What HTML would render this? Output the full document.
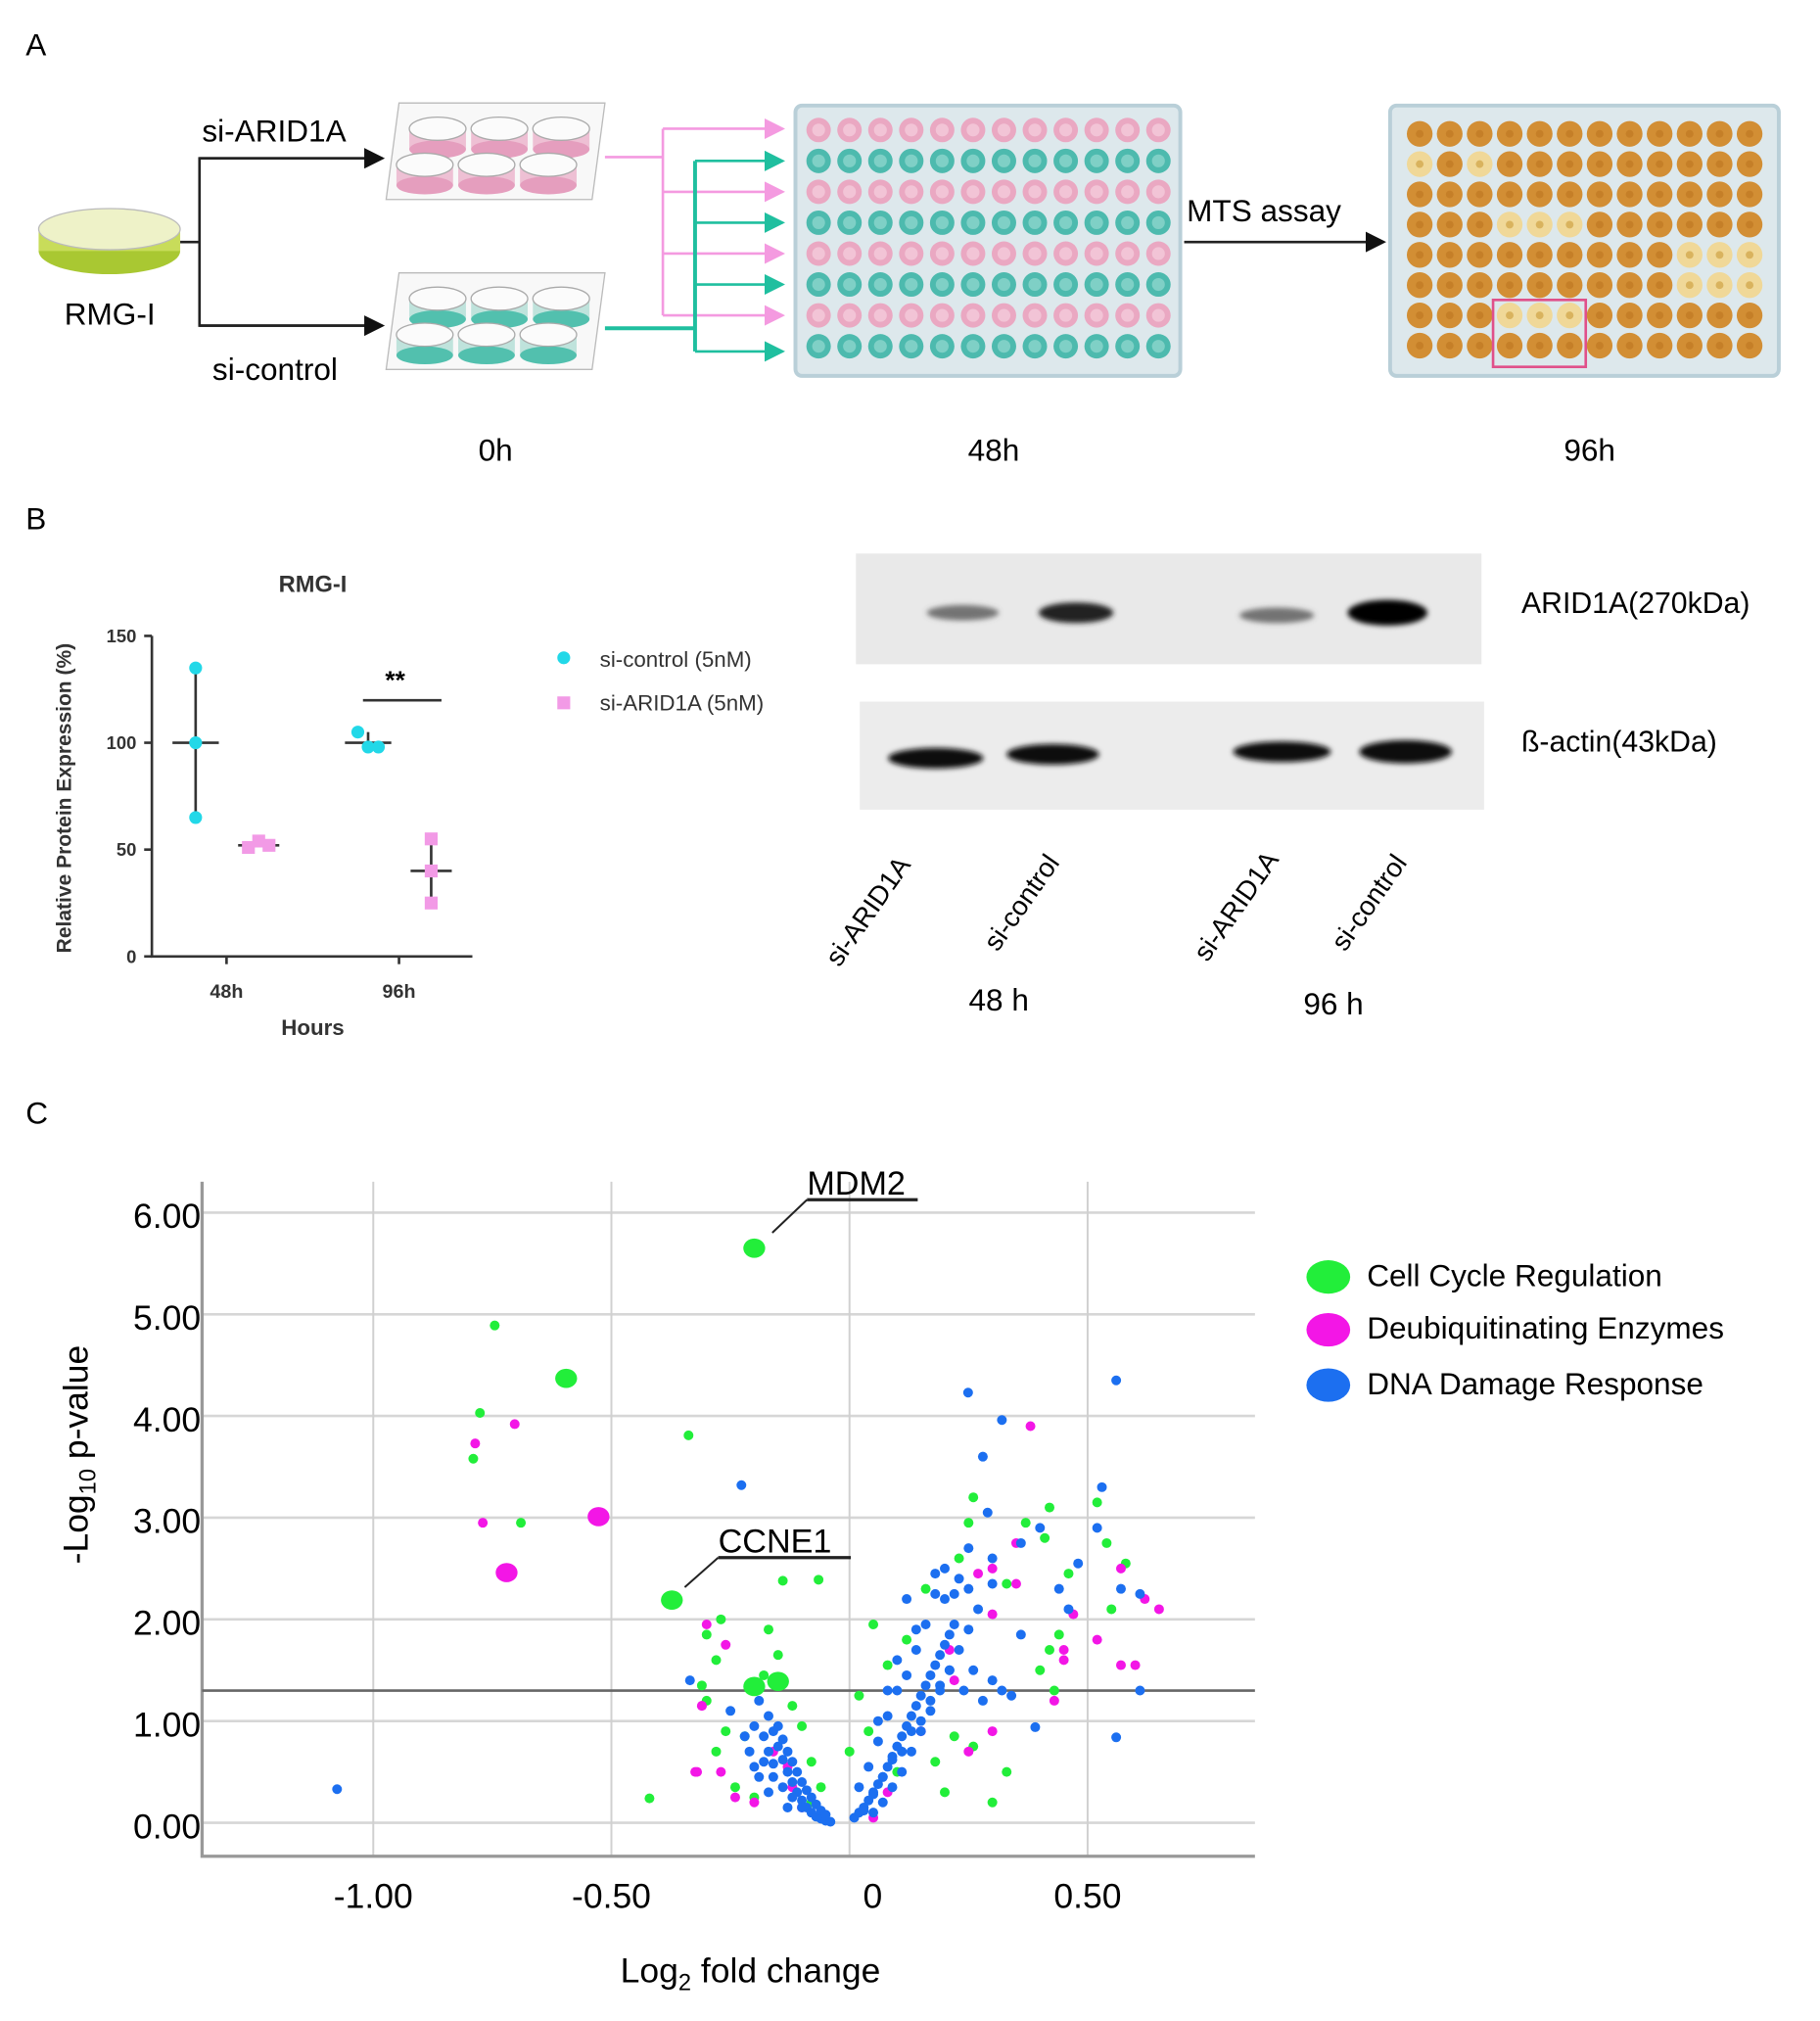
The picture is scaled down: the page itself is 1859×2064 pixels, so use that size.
<!DOCTYPE html>
<html><head><meta charset="utf-8"><style>
html,body{margin:0;padding:0;background:#fff}
svg{display:block}
text{font-family:"Liberation Sans",sans-serif}
</style></head><body>
<svg id="fig" width="1859" height="2064" viewBox="0 0 1414 1570" preserveAspectRatio="none" xmlns="http://www.w3.org/2000/svg">
<defs>
<marker id="ab" markerWidth="8" markerHeight="8" refX="7" refY="4" orient="auto"><path d="M0,0L8,4L0,8z" fill="#111"/></marker>
<marker id="ap" markerWidth="8" markerHeight="8" refX="7" refY="4" orient="auto"><path d="M0,0L8,4L0,8z" fill="#f49ae0"/></marker>
<marker id="at" markerWidth="8" markerHeight="8" refX="7" refY="4" orient="auto"><path d="M0,0L8,4L0,8z" fill="#1fbf9f"/></marker>
<filter id="blur" x="-20%" y="-50%" width="140%" height="200%"><feGaussianBlur stdDeviation="2"/></filter>
</defs>
<g id="panelA">
<text x="20" y="43" font-size="24">A</text>
<g>
<ellipse cx="85" cy="195" rx="55" ry="18" fill="#a9c832"/>
<rect x="30" y="178" width="110" height="17" fill="#c8dc5a"/>
<ellipse cx="85" cy="178" rx="55" ry="16" fill="#eef2c8" stroke="#bbb"/>
</g>
<text x="50" y="252" font-size="24">RMG-I</text>
<path d="M140,188H155V123H297M155,188V253H297" fill="none" stroke="#222" stroke-width="2"/>
<path d="M155,123H297" stroke="#222" stroke-width="2" marker-end="url(#ab)"/>
<path d="M155,253H297" stroke="#222" stroke-width="2" marker-end="url(#ab)"/>
<text x="157" y="110" font-size="24">si-ARID1A</text>
<text x="165" y="295" font-size="24">si-control</text>
<g id="plate6a"></g>
<g id="plate6b"></g>
<g id="seedlines"></g>
<rect x="618" y="82" width="299" height="210" rx="5" fill="#dde8ec" stroke="#b9cfd8" stroke-width="3"/>
<g id="wells48"></g>
<path d="M920,188H1075" stroke="#222" stroke-width="2" marker-end="url(#ab)"/>
<text x="922" y="172" font-size="24">MTS assay</text>
<rect x="1080" y="82" width="302" height="210" rx="5" fill="#dde8ec" stroke="#b9cfd8" stroke-width="3"/>
<g id="wells96"></g>
<rect x="1160" y="233" width="72" height="52" fill="none" stroke="#e0508a" stroke-width="2"/>
<text x="385" y="358" font-size="24" text-anchor="middle">0h</text>
<text x="772" y="358" font-size="24" text-anchor="middle">48h</text>
<text x="1235" y="358" font-size="24" text-anchor="middle">96h</text>
</g>

<g id="panelB">
<text x="20" y="411" font-size="24">B</text>
<text x="243" y="460" font-size="18" font-weight="bold" text-anchor="middle" fill="#333">RMG-I</text>
<g id="chartB"></g>
<text transform="translate(55,620) rotate(-90)" font-size="16" font-weight="bold" fill="#333" text-anchor="middle">Relative Protein Expression (%)</text>
<text x="243" y="804" font-size="17" font-weight="bold" fill="#333" text-anchor="middle">Hours</text>
<circle cx="438" cy="511" r="5" fill="#22d8e8"/>
<text x="466" y="518" font-size="17" fill="#333">si-control (5nM)</text>
<rect x="433" y="541" width="10" height="10" fill="#f29ae6"/>
<text x="466" y="552" font-size="17" fill="#333">si-ARID1A (5nM)</text>
<g>
<rect x="665" y="430" width="486" height="86" fill="#e9e9e9"/>
<rect x="668" y="545" width="485" height="84" fill="#ececec"/>
<g filter="url(#blur)">
<ellipse cx="748" cy="476" rx="28" ry="6" fill="#555" opacity="0.8"/>
<ellipse cx="836" cy="476" rx="29" ry="8" fill="#222"/>
<ellipse cx="992" cy="478" rx="29" ry="6" fill="#555" opacity="0.8"/>
<ellipse cx="1078" cy="476" rx="31" ry="10" fill="#000"/>
<ellipse cx="727" cy="589" rx="37" ry="8" fill="#111"/>
<ellipse cx="818" cy="586" rx="36" ry="8" fill="#111"/>
<ellipse cx="996" cy="584" rx="38" ry="8" fill="#111"/>
<ellipse cx="1092" cy="584" rx="36" ry="9" fill="#111"/>
</g>
</g>
<text x="1182" y="476" font-size="23">ARID1A(270kDa)</text>
<text x="1182" y="584" font-size="23">ß-actin(43kDa)</text>
<text transform="translate(652,752) rotate(-55)" font-size="21">si-ARID1A</text>
<text transform="translate(775,740) rotate(-55)" font-size="21">si-control</text>
<text transform="translate(938,748) rotate(-55)" font-size="21">si-ARID1A</text>
<text transform="translate(1045,740) rotate(-55)" font-size="21">si-control</text>
<text x="776" y="785" font-size="24" text-anchor="middle">48 h</text>
<text x="1036" y="788" font-size="24" text-anchor="middle">96 h</text>
</g>

<g id="panelC">
<text x="20" y="873" font-size="24">C</text>
<g id="volcano"></g>
<text transform="translate(68,1130) rotate(-90)" font-size="27" text-anchor="middle">-Log<tspan font-size="18" dy="6">10</tspan><tspan dy="-6"> p-value</tspan></text>
<text x="583" y="1540" font-size="27" text-anchor="middle">Log<tspan font-size="18" dy="6">2</tspan><tspan dy="-6"> fold change</tspan></text>
<g>
<ellipse cx="1032" cy="992" rx="17" ry="13" fill="#22ee3a"/>
<text x="1062" y="999" font-size="24">Cell Cycle Regulation</text>
<ellipse cx="1032" cy="1033" rx="17" ry="13" fill="#f316e6"/>
<text x="1062" y="1040" font-size="24">Deubiquitinating Enzymes</text>
<ellipse cx="1032" cy="1076" rx="17" ry="13" fill="#1c6ff0"/>
<text x="1062" y="1083" font-size="24">DNA Damage Response</text>
</g>
</g>
</svg>
<script>
// ===== Panel B data =====
const bCategories = ["48h","96h"];
const bControlVals = [[135,100,65],[105,98,98]];
const bControlMeans = [100,100];
const bAridVals = [[51,54,52],[55,40,25]];
const bAridMeans = [52,40];
const bYTicks = [0,50,100,150];

// ===== Panel C data =====
const xTicks = [-1.0,-0.5,0,0.5];
const xTickLabels = ["-1.00","-0.50","0","0.50"];
const yTicks = [0,1,2,3,4,5,6];
const yTickLabels = ["0.00","1.00","2.00","3.00","4.00","5.00","6.00"];
const threshold = 1.3;
const greenX = [-0.745,-0.776,-0.79,-0.69,-0.338,-0.42,-0.14,-0.065,0.23,0.25,0.26,0.33,0.37,0.42,0.41,0.46,0.52,0.54,0.58,0.55,0.44,0.42,0.4,0.43,0.08,0.12,0.05,0.16,0.02,0.04,0.0,0.1,0.2,0.18,0.26,0.33,0.3,0.22,-0.27,-0.3,-0.28,-0.31,-0.26,-0.28,-0.22,-0.24,-0.2,-0.15,-0.18,-0.12,-0.1,-0.08,-0.06,-0.3,-0.17,-0.08];
const greenY = [4.89,4.03,3.58,2.95,3.81,0.24,2.38,2.39,2.6,2.95,3.2,2.35,2.95,3.1,2.8,2.45,3.15,2.75,2.55,2.1,1.85,1.7,1.5,1.3,1.55,1.8,1.95,2.3,1.25,0.9,0.7,0.5,0.3,0.6,0.75,0.5,0.2,0.85,2.0,1.85,1.6,1.35,0.9,0.7,0.85,0.35,0.25,1.65,1.45,1.15,0.95,0.6,0.35,1.2,1.9,0.2];
const magentaX = [-0.703,-0.786,-0.77,-0.31,-0.324,-0.3,-0.26,-0.31,-0.32,-0.27,-0.24,-0.2,-0.12,-0.1,-0.16,-0.13,0.38,0.35,0.3,0.21,0.35,0.27,0.47,0.52,0.57,0.6,0.62,0.65,0.57,0.43,0.22,0.45,0.3,0.25,0.15,0.05,0.08,0.45,0.3];
const magentaY = [3.92,3.73,2.95,1.15,0.5,1.95,1.75,1.15,0.5,0.5,0.25,0.2,0.35,0.15,0.7,0.55,3.9,2.75,2.05,1.7,2.35,2.45,2.05,1.8,1.55,1.55,2.2,2.1,2.5,1.2,1.4,1.6,0.9,0.7,0.9,0.05,0.3,1.7,2.5];
const blueX = [-1.076,-0.227,0.249,0.56,0.32,0.28,-0.335,0.56,0.61,0.39,-0.19,-0.17,-0.16,-0.15,-0.14,-0.13,-0.12,-0.11,-0.1,-0.09,-0.08,-0.07,-0.06,-0.05,-0.04,-0.18,-0.17,-0.16,-0.15,-0.14,-0.13,-0.12,-0.11,-0.1,-0.09,-0.08,-0.07,-0.06,-0.05,-0.2,-0.18,-0.16,-0.14,-0.12,-0.1,-0.21,-0.2,-0.19,-0.22,-0.25,-0.17,-0.13,0.01,0.02,0.03,0.04,0.05,0.06,0.07,0.08,0.09,0.1,0.11,0.12,0.13,0.14,0.15,0.16,0.17,0.18,0.19,0.2,0.21,0.22,0.02,0.03,0.04,0.05,0.06,0.07,0.08,0.09,0.1,0.11,0.12,0.13,0.14,0.15,0.16,0.17,0.18,0.19,0.2,0.21,0.05,0.07,0.09,0.11,0.13,0.15,0.17,0.19,0.21,0.23,0.25,0.27,0.24,0.26,0.28,0.3,0.32,0.34,0.23,0.25,0.18,0.22,0.3,0.2,0.12,0.14,0.1,0.08,0.06,0.29,0.25,0.36,0.44,0.48,0.53,0.52,0.57,0.61,0.46,0.4,0.36,0.3];
const blueY = [0.33,3.32,4.23,4.35,3.96,3.6,1.4,0.84,1.3,0.94,1.2,1.05,0.9,0.75,0.62,0.5,0.4,0.3,0.22,0.15,0.1,0.06,0.04,0.02,0.01,0.85,0.7,0.58,0.95,0.82,0.7,0.6,0.5,0.4,0.32,0.25,0.18,0.12,0.08,0.95,0.6,0.45,0.35,0.25,0.15,0.7,0.55,0.45,0.85,1.1,0.3,0.15,0.05,0.1,0.15,0.22,0.3,0.38,0.45,0.55,0.65,0.75,0.85,0.95,1.05,1.15,1.25,1.35,1.45,1.55,1.65,1.75,1.85,1.95,0.35,0.12,0.55,0.28,0.8,0.45,1.05,0.62,1.3,0.7,1.45,0.9,1.7,1.0,1.95,1.2,2.25,1.35,2.5,1.5,0.1,0.2,0.35,0.5,0.7,0.9,1.1,1.3,1.5,1.7,1.9,2.1,1.3,1.5,1.2,1.4,1.3,1.25,2.4,2.3,2.45,2.25,2.35,2.2,2.2,1.9,1.6,1.3,1.0,3.05,2.7,2.75,2.3,2.55,3.3,2.9,2.3,2.25,2.1,2.9,1.85,2.6];
const bigPointsX = [-0.2,-0.595,-0.527,-0.72,-0.373,-0.2,-0.15];
const bigPointsY = [5.65,4.37,3.01,2.46,2.19,1.34,1.39];
const bigPointsCat = ["g","g","m","m","g","g","g"];

const NS = "http://www.w3.org/2000/svg";
function mk(tag, attrs, parent){const e=document.createElementNS(NS,tag);for(const k in attrs)e.setAttribute(k,attrs[k]);parent.appendChild(e);return e;}

// ----- Panel A decorations -----
function sixPlate(g, x0, y0, col, colDark){
  mk('path',{d:`M${x0+10},${y0} L${x0+170},${y0} L${x0+160},${y0+75} L${x0},${y0+75} Z`,fill:'#f8f8f8',stroke:'#bbb'},g);
  const pos=[[x0+40,y0+20],[x0+88,y0+20],[x0+136,y0+20],[x0+30,y0+48],[x0+78,y0+48],[x0+126,y0+48]];
  pos.forEach(p=>{
    mk('rect',{x:p[0]-22,y:p[1],width:44,height:16,fill:col},g);
    mk('ellipse',{cx:p[0],cy:p[1]+16,rx:22,ry:7,fill:colDark},g);
    mk('ellipse',{cx:p[0],cy:p[1],rx:22,ry:9,fill:'#fbfbfb',stroke:'#aaa'},g);
  });
}
sixPlate(document.getElementById('plate6a'),300,80,'#eec0d4','#e59ebe');
sixPlate(document.getElementById('plate6b'),300,212,'#bfe3dc','#52c0ae');
const sl=document.getElementById('seedlines');
mk('path',{d:'M470,122H515M515,100V245',stroke:'#f49ae0','stroke-width':2,fill:'none'},sl);
[100,149,197,245].forEach(y=>mk('path',{d:`M515,${y}H608`,stroke:'#f49ae0','stroke-width':2,'marker-end':'url(#ap)'},sl));
mk('path',{d:'M470,255H540M540,125V273',stroke:'#1fbf9f','stroke-width':3,fill:'none'},sl);
[125,173,221,273].forEach(y=>mk('path',{d:`M540,${y}H608`,stroke:'#1fbf9f','stroke-width':2,'marker-end':'url(#at)'},sl));
const w48=document.getElementById('wells48');
for(let r=0;r<8;r++)for(let c=0;c<12;c++){
  const pink=r%2===0;
  mk('circle',{cx:636+c*24,cy:101+r*24,r:9.5,fill:pink?'#eaa8c2':'#4dbaae'},w48);
  mk('circle',{cx:636+c*24,cy:101+r*24,r:5,fill:pink?'#f2c4d6':'#7fd0c6'},w48);
}
const w96=document.getElementById('wells96');
const pale={"1":[0,2],"3":[3,4,5],"4":[9,10,11],"5":[9,10,11],"6":[3,4,5]};
for(let r=0;r<8;r++)for(let c=0;c<12;c++){
  const p=pale[r]&&pale[r].includes(c);
  mk('circle',{cx:1103+c*23.3,cy:104+r*23.5,r:10,fill:p?'#f0d898':'#d28e34'},w96);
  mk('circle',{cx:1103+c*23.3,cy:104+r*23.5,r:3,fill:p?'#d9b35e':'#c57f28'},w96);
}

// ----- Panel B chart -----
const cb=document.getElementById('chartB');
const bx0=118, by0=743, bys=(743-494)/150;
const by=v=>by0-v*bys;
const bCatX=[176,310];
mk('path',{d:`M${bx0},494V${by0}H367`,stroke:'#333','stroke-width':2,fill:'none'},cb);
bYTicks.forEach(t=>{
  mk('line',{x1:bx0-6,x2:bx0,y1:by(t),y2:by(t),stroke:'#333','stroke-width':2},cb);
  const tx=mk('text',{x:bx0-12,y:by(t)+5,'font-size':14,'font-weight':'bold','text-anchor':'end',fill:'#333'},cb);tx.textContent=t;
  
  
});
bCategories.forEach((c,i)=>{
  mk('line',{x1:bCatX[i],x2:bCatX[i],y1:by0,y2:by0+6,stroke:'#333','stroke-width':2},cb);
  const tx=mk('text',{x:bCatX[i],y:by0+32,'font-size':15,'font-weight':'bold','text-anchor':'middle',fill:'#333'},cb);tx.textContent=c;
  
  
  const xc=bCatX[i]-24, xa=bCatX[i]+25;
  const cv=bControlVals[i], av=bAridVals[i];
  mk('line',{x1:xc,x2:xc,y1:by(Math.max(...cv)),y2:by(Math.min(...cv)),stroke:'#333','stroke-width':2},cb);
  mk('line',{x1:xc-18,x2:xc+18,y1:by(bControlMeans[i]),y2:by(bControlMeans[i]),stroke:'#333','stroke-width':2},cb);
  cv.forEach((v,j)=>{const d=mk('circle',{cx:xc+(i===1?(j-1)*8:0),cy:by(v),r:5,fill:'#22d8e8'},cb);
    
    });
  mk('line',{x1:xa,x2:xa,y1:by(Math.max(...av)),y2:by(Math.min(...av)),stroke:'#333','stroke-width':2},cb);
  mk('line',{x1:xa-16,x2:xa+16,y1:by(bAridMeans[i]),y2:by(bAridMeans[i]),stroke:'#333','stroke-width':2},cb);
  av.forEach((v,j)=>{const d=mk('rect',{x:xa+(i===0?(j-1)*8:0)-5,y:by(v)-5,width:10,height:10,fill:'#f29ae6'},cb);
    
    });
});
mk('line',{x1:282,x2:343,y1:544,y2:544,stroke:'#333','stroke-width':2},cb);
const st=mk('text',{x:307,y:535,'font-size':20,'font-weight':'bold','text-anchor':'middle'},cb);st.textContent='**';



// ----- Panel C volcano -----
const vg=document.getElementById('volcano');
const X=v=>660+v*370, Y=v=>1416-v*79;
yTicks.forEach((t,i)=>{
  const l=mk('line',{x1:157,x2:975,y1:Y(t),y2:Y(t),stroke:'#d6d6d6','stroke-width':2},vg);
  
  
  const tx=mk('text',{x:156,y:Y(t)+12,'font-size':27,'text-anchor':'end'},vg);tx.textContent=yTickLabels[i];
  
  
});
xTicks.forEach((t,i)=>{
  const l=mk('line',{x1:X(t),x2:X(t),y1:918,y2:1442,stroke:'#d0d0d0','stroke-width':1.5},vg);
  
  
  const tx=mk('text',{x:X(t)+(t===0?18:0),y:1482,'font-size':27,'text-anchor':'middle'},vg);tx.textContent=xTickLabels[i];
  
  
});
mk('path',{d:'M157,918V1442H975',stroke:'#999','stroke-width':2.5,fill:'none'},vg);
const th=mk('line',{x1:157,x2:975,y1:Y(threshold),y2:Y(threshold),stroke:'#666','stroke-width':2},vg);


const cols={g:'#22ee3a',m:'#f316e6',b:'#1c6ff0'};
function pts(xs,ys,c,name){xs.forEach((x,i)=>{const d=mk('circle',{cx:X(x),cy:Y(ys[i]),r:3.8,fill:cols[c]},vg);
  
  });}
pts(greenX,greenY,'g','cell-cycle-point');
pts(magentaX,magentaY,'m','deubiquitinating-point');
pts(blueX,blueY,'b','dna-damage-point');
bigPointsX.forEach((x,i)=>{const d=mk('ellipse',{cx:X(x),cy:Y(bigPointsY[i]),rx:8.5,ry:7.5,fill:cols[bigPointsCat[i]]},vg);
  
  });
mk('line',{x1:X(bigPointsX[0])+14,y1:Y(bigPointsY[0])-12,x2:627,y2:932,stroke:'#222','stroke-width':1.5},vg);
mk('line',{x1:627,x2:713,y1:932,y2:932,stroke:'#222','stroke-width':2.5},vg);
const l1=mk('text',{x:627,y:928,'font-size':26},vg);l1.textContent='MDM2';


mk('line',{x1:X(bigPointsX[4])+10,y1:Y(bigPointsY[4])-10,x2:558,y2:1210,stroke:'#222','stroke-width':1.5},vg);
mk('line',{x1:558,x2:661,y1:1210,y2:1210,stroke:'#222','stroke-width':2.5},vg);
const l2=mk('text',{x:558,y:1206,'font-size':26},vg);l2.textContent='CCNE1';


</script>
</body></html>
